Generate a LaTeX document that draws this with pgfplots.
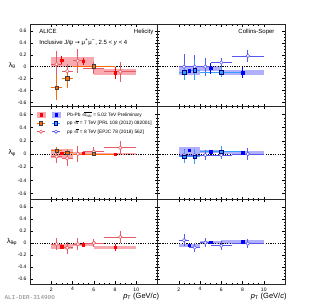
\documentclass[border=0pt]{standalone}
\usepackage{pgfplots}
\pgfplotsset{compat=1.18}
\usepackage{fontspec}
\setmainfont{Liberation Sans}
\newfontfamily\monofont{Liberation Mono}
\newfontfamily\dejavu{DejaVu Sans}

\definecolor{pbred}{HTML}{FF0000}
\definecolor{pinkbox}{HTML}{F8AAB0}
\definecolor{pbblue}{HTML}{0000FF}
\definecolor{bluebox}{HTML}{B0B0FF}
\definecolor{ppsevor}{HTML}{FF6A00}
\definecolor{ppsevbl}{HTML}{33A0FF}
\definecolor{ppeightred}{HTML}{E85A64}
\definecolor{ppeightbl}{HTML}{5858F0}

\newcommand{\sysbox}[5]{\addplot[draw=none, fill=#5, forget plot] coordinates {(#1,#3) (#2,#3) (#2,#4) (#1,#4)} --cycle;}
\newcommand{\zeroline}{\addplot[black, line width=0.6pt, dash pattern=on 1.2pt off 1.2pt, forget plot] coordinates {(0,0) (12,0)};}
\newcommand{\rootof}[1]{√\kern-0.05em\ensuremath{\overline{\mbox{#1}}}}

\pgfplotsset{
  panel/.style={scale only axis, width=127.5pt, anchor=north west,
    xmin=0, xmax=12, xtick={2,4,6,8,10},
    ytick={-0.6,-0.4,-0.2,0,0.2,0.4,0.6},
    minor x tick num=3, minor y tick num=3,
    tick align=inside, tick pos=both,
    major tick length=2.7pt, minor tick length=1.4pt,
    axis line style={line width=0.5pt, black!85},
    every tick/.style={black, line width=0.4pt},
    tick label style={font=\fontsize{5}{6}\selectfont},
    /pgf/number format/assume math mode=true,
    yticklabel style={/pgf/number format/fixed, /pgf/number format/precision=1},
    ylabel style={at={(axis description cs:-0.14,0.5)}, rotate=-90, anchor=center, font=\fontsize{7}{8}\selectfont},
    xlabel style={at={(axis description cs:1.04,-0.15)}, anchor=east, font=\fontsize{7.5}{8}\selectfont},
  },
  pbL/.style={only marks, mark=square*, mark size=1.2pt, color=pbred, forget plot,
    error bars/.cd, y dir=both, y explicit, error mark=none, error bar style={line width=0.8pt, pbred}},
  pbR/.style={only marks, mark=square*, mark size=1.2pt, color=pbblue, forget plot,
    error bars/.cd, y dir=both, y explicit, error mark=none, error bar style={line width=0.8pt, pbblue}},
  p7L/.style={only marks, mark=square*, mark size=1.7pt, color=ppsevor, mark options={fill=ppsevor, draw=black!75, line width=0.5pt}, forget plot,
    error bars/.cd, x dir=both, x explicit, y dir=both, y explicit, error mark=none, error bar style={line width=0.8pt, ppsevor}},
  p7R/.style={only marks, mark=square*, mark size=1.7pt, color=ppsevbl, mark options={fill=ppsevbl, draw=blue!50!black, line width=0.5pt}, forget plot,
    error bars/.cd, x dir=both, x explicit, y dir=both, y explicit, error mark=none, error bar style={line width=0.8pt, ppsevbl}},
  p8L/.style={only marks, mark=*, mark size=1.8pt, color=ppeightred, mark options={fill=white, draw=ppeightred, line width=0.6pt}, forget plot,
    error bars/.cd, x dir=both, x explicit, y dir=both, y explicit, error mark=none, error bar style={line width=0.7pt, ppeightred}},
  p8R/.style={only marks, mark=*, mark size=1.8pt, color=ppeightbl, mark options={fill=white, draw=ppeightbl, line width=0.6pt}, forget plot,
    error bars/.cd, x dir=both, x explicit, y dir=both, y explicit, error mark=none, error bar style={line width=0.7pt, ppeightbl}},
}

\begin{document}
\begin{tikzpicture}
\useasboundingbox (0pt,0pt) rectangle (316pt,302pt);

% ---------------- top left: lambda_theta, Helicity
\begin{axis}[panel, at={(30pt,277.5pt)}, height=82pt, ymin=-0.665, ymax=0.705,
  xticklabels={}, ylabel={λ\textsubscript{θ}}]
\sysbox{2}{4}{0.0}{0.165}{pinkbox}
\sysbox{4}{6}{0.0}{0.165}{pinkbox}
\sysbox{6}{10}{-0.04}{-0.14}{pinkbox}
\zeroline
\addplot[p8L] table[x=x,y=y,x error=ex,y error=ey] {
x y ex ey
2.5 0.04 0.5 0.23
3.5 -0.075 0.5 0.12
4.5 0.10 0.5 0.20
6 -0.02 1 0.10
8.5 -0.085 1.5 0.17
};
\addplot[p7L] table[x=x,y=y,x error=ex,y error=ey] {
x y ex ey
2.5 -0.35 0.5 0.21
3.5 -0.19 0.5 0.16
6 0.01 2 0.04
};
\addplot[pbL] table[x=x,y=y,y error=ey] {
x y ey
3 0.11 0.07
5 0.09 0.06
8 -0.10 0.10
};
\node[anchor=west, font=\fontsize{6}{7}\selectfont] at (axis description cs:0.045,0.912) {ALICE};
\node[anchor=west, font=\fontsize{6}{7}\selectfont] at (axis description cs:0.045,0.787) {Inclusive J/ψ {\dejavu →} μ\textsuperscript{+}μ\textsuperscript{−}, 2.5 < \textit{y} < 4};
\node[anchor=east, font=\fontsize{6}{7}\selectfont] at (axis description cs:0.995,0.912) {Helicity};
\end{axis}

% ---------------- top right: lambda_theta, Collins-Soper
\begin{axis}[panel, at={(157.5pt,277.5pt)}, height=82pt, ymin=-0.665, ymax=0.705,
  xticklabels={}, yticklabels={}]
\sysbox{2}{4}{0.0}{-0.14}{bluebox}
\sysbox{4}{6}{0.014}{-0.07}{bluebox}
\sysbox{6}{10}{-0.06}{-0.14}{bluebox}
\zeroline
\addplot[p8R] table[x=x,y=y,x error=ex,y error=ey] {
x y ex ey
2.5 0.0 0.5 0.22
3.5 0.0 0.5 0.20
4.5 0.0 0.5 0.15
6 0.07 1 0.07
8.5 0.18 1.5 0.10
};
\addplot[p7R] table[x=x,y=y,x error=ex,y error=ey] {
x y ex ey
2.5 -0.09 0.5 0.14
3.5 -0.06 0.5 0.17
6 -0.09 2 0.08
};
\addplot[pbR] table[x=x,y=y,y error=ey] {
x y ey
3 -0.07 0.03
5 -0.03 0.09
8 -0.10 0.09
};
\node[anchor=east, font=\fontsize{6}{7}\selectfont] at (axis description cs:0.945,0.909) {Collins-Soper};
\end{axis}

% ---------------- middle left: lambda_phi, Helicity
\begin{axis}[panel, at={(30pt,195.5pt)}, height=93pt, ymin=-0.69, ymax=0.72,
  xticklabels={}, ylabel={λ\textsubscript{φ}},
  legend style={at={(axis description cs:0.05,0.955)}, anchor=north west, draw=none, fill=none,
    font=\fontsize{4.8}{5.8}\selectfont, inner sep=0pt, row sep=0.8pt, nodes={inner sep=0.8pt},
    /tikz/every odd column/.append style={column sep=6pt}},
  legend cell align=left]
\addlegendimage{legend image code/.code={
  \fill[pinkbox] (0pt,-2.5pt) rectangle (8pt,2.5pt); \fill[pbred] (2.8pt,-1.2pt) rectangle (5.2pt,1.2pt);
  \fill[bluebox] (15pt,-2.5pt) rectangle (23pt,2.5pt); \fill[pbblue] (17.8pt,-1.2pt) rectangle (20.2pt,1.2pt);}}
\addlegendentry{Pb-Pb \rootof{\textit{s}\textsubscript{NN}} = 5.02 TeV Preliminary}
\addlegendimage{legend image code/.code={
  \draw[ppsevor, line width=0.8pt] (0pt,0) -- (8pt,0); \draw[fill=ppsevor, draw=black!75, line width=0.4pt] (2.4pt,-1.6pt) rectangle (5.6pt,1.6pt);
  \draw[ppsevbl, line width=0.8pt] (15pt,0) -- (23pt,0); \draw[fill=ppsevbl, draw=blue!50!black, line width=0.4pt] (17.4pt,-1.6pt) rectangle (20.6pt,1.6pt);}}
\addlegendentry{pp \rootof{\textit{s}} = 7 TeV [PRL 108 (2012) 082001]}
\addlegendimage{legend image code/.code={
  \draw[ppeightred, line width=0.7pt] (0pt,0) -- (8pt,0); \draw[fill=white, draw=ppeightred, line width=0.6pt] (4pt,0) circle (1.7pt);
  \draw[ppeightbl, line width=0.7pt] (15pt,0) -- (23pt,0); \draw[fill=white, draw=ppeightbl, line width=0.6pt] (19pt,0) circle (1.7pt);}}
\addlegendentry{pp \rootof{\textit{s}} = 8 TeV [EPJC 78 (2018) 562]}
\sysbox{2}{4}{-0.06}{0.08}{pinkbox}
\sysbox{4}{6}{-0.01}{0.03}{pinkbox}
\sysbox{6}{10}{-0.02}{0.01}{pinkbox}
\zeroline
\addplot[p8L] table[x=x,y=y,x error=ex,y error=ey] {
x y ex ey
2.5 -0.04 0.5 0.10
3.5 -0.065 0.5 0.12
4.5 0.0 0.5 0.12
6 0.035 1 0.07
8.5 0.095 1.5 0.10
};
\addplot[p7L] table[x=x,y=y,x error=ex,y error=ey] {
x y ex ey
2.5 0.05 0.5 0.06
3.5 0.02 0.5 0.06
6 0.0 2 0.02
};
\addplot[pbL] table[x=x,y=y,y error=ey] {
x y ey
3 0.01 0.02
5 0.01 0.02
8 -0.005 0.02
};
\end{axis}

% ---------------- middle right: lambda_phi, Collins-Soper
\begin{axis}[panel, at={(157.5pt,195.5pt)}, height=93pt, ymin=-0.69, ymax=0.72,
  xticklabels={}, yticklabels={}]
\sysbox{2}{4}{-0.015}{0.11}{bluebox}
\sysbox{4}{6}{0.01}{0.06}{bluebox}
\sysbox{6}{10}{0.0}{0.05}{bluebox}
\zeroline
\addplot[p8R] table[x=x,y=y,x error=ex,y error=ey] {
x y ex ey
2.5 -0.02 0.5 0.10
3.5 -0.02 0.5 0.10
4.5 -0.015 0.5 0.08
6 -0.015 1 0.06
8.5 0.0 1.5 0.09
};
\addplot[p7R] table[x=x,y=y,x error=ex,y error=ey] {
x y ex ey
2.5 -0.04 0.5 0.10
3.5 -0.04 0.5 0.11
6 0.035 2 0.09
};
\addplot[pbR] table[x=x,y=y,y error=ey] {
x y ey
3 0.06 0.02
5 0.035 0.02
8 0.02 0.02
};
\end{axis}

% ---------------- bottom left: lambda_thetaphi, Helicity
\begin{axis}[panel, at={(30pt,102.5pt)}, height=84.5pt, ymin=-0.685, ymax=0.725,
  ylabel={λ\textsubscript{θφ}}, xlabel={\textit{p}\textsubscript{T} (GeV/\textit{c})}]
\sysbox{2}{4}{-0.105}{-0.01}{pinkbox}
\sysbox{4}{6}{-0.05}{0.0}{pinkbox}
\sysbox{6}{10}{-0.105}{-0.045}{pinkbox}
\zeroline
\addplot[p8L] table[x=x,y=y,x error=ex,y error=ey] {
x y ex ey
2.5 -0.02 0.5 0.10
3.5 -0.08 0.5 0.10
4.5 -0.02 0.5 0.10
6 0.0 1 0.07
8.5 0.10 1.5 0.10
};
\addplot[pbL] table[x=x,y=y,y error=ey] {
x y ey
3 -0.06 0.03
5 -0.03 0.04
8 -0.075 0.06
};
\end{axis}

% ---------------- bottom right: lambda_thetaphi, Collins-Soper
\begin{axis}[panel, at={(157.5pt,102.5pt)}, height=84.5pt, ymin=-0.685, ymax=0.725,
  yticklabels={}, xlabel={\textit{p}\textsubscript{T} (GeV/\textit{c})}]
\sysbox{2}{4}{-0.065}{-0.01}{bluebox}
\sysbox{4}{6}{-0.02}{0.035}{bluebox}
\sysbox{6}{10}{-0.01}{0.045}{bluebox}
\zeroline
\addplot[p8R] table[x=x,y=y,x error=ex,y error=ey] {
x y ex ey
2.5 0.045 0.5 0.10
3.5 -0.075 0.5 0.08
4.5 0.005 0.5 0.08
6 -0.045 1 0.08
8.5 -0.01 1.5 0.08
};
\addplot[pbR] table[x=x,y=y,y error=ey] {
x y ey
3 -0.04 0.03
5 0.01 0.03
8 0.02 0.03
};
\end{axis}

\node[anchor=west, font=\monofont\fontsize{6}{7}\selectfont, text=gray] at (1pt,4pt) {ALI-DER-314900};
\end{tikzpicture}
\end{document}
